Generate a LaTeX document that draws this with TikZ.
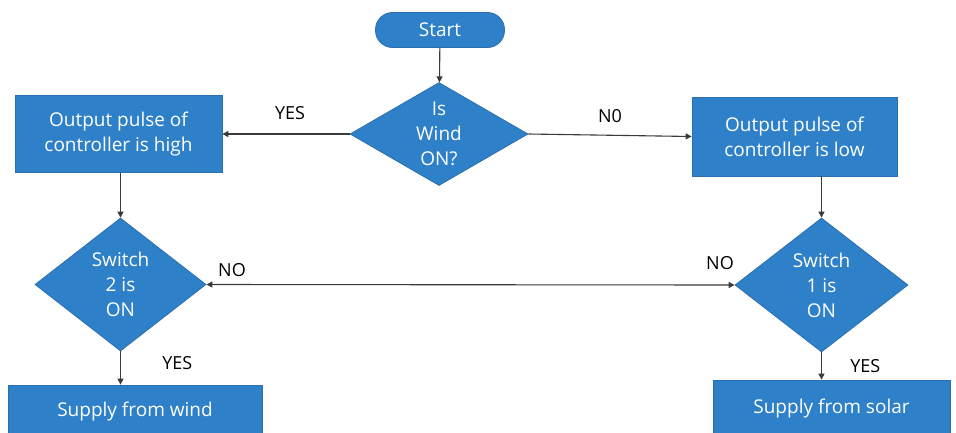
\documentclass[tikz,border=0pt]{standalone}
\usepackage{fontspec}
\setmainfont{Open Sans}
\usepackage{xcolor}
\usetikzlibrary{
  arrows.meta,
  shapes.geometric,
  positioning
}
\definecolor{fcBlue}{HTML}{2E80C9}
\definecolor{fcEdge}{HTML}{2B6FAE}
\definecolor{fcLine}{HTML}{3A3A3A}
\tikzset{
  fcnode/.style={
    draw=fcEdge, fill=fcBlue, text=white, align=center, line width=0.8pt,
    font=\fontsize{19}{25}\selectfont
  },
  fcstart/.style={fcnode, rounded corners=17pt, minimum width=129pt, minimum height=35pt},
  fcbox/.style={fcnode, minimum width=207pt, minimum height=77pt, inner sep=0pt},
  fcdec/.style={fcnode, diamond, inner sep=0pt},
  fcend/.style={fcnode, inner sep=0pt},
  fcflow/.style={-{Triangle[length=6pt, width=6pt]}, line width=1.1pt, fcLine},
  fclabel/.style={font=\fontsize{18}{20}\selectfont, text=black}
}

\begin{document}
\begin{tikzpicture}[x=1pt, y=-1pt]
  \useasboundingbox (0,0) rectangle (956,432);
  \clip (0,0) rectangle (956,432);
  % top of the chart
  \node[fcstart] (start) at (440,30) {Start};
  \node[fcdec, minimum width=178pt, minimum height=103pt, aspect=1.73] (wind) at (439,134) {Is\\Wind\\ON?};
  \node[fcbox] (outhigh) at (118.5,134) {Output pulse of\\controller is high};
  \node[fcbox, minimum width=205pt, minimum height=79pt] (outlow) at (794.5,136.5) {Output pulse of\\controller is low};
  % switches
  \node[fcdec, minimum width=171pt, minimum height=133pt, aspect=1.29] (sw2) at (120.5,284.5) {Switch\\2 is\\ON};
  \node[fcdec, minimum width=173pt, minimum height=134pt, aspect=1.29] (sw1) at (821.5,285) {Switch\\1 is\\ON};
  % supply boxes
  \node[fcend, minimum width=254pt, minimum height=54pt] (wsup) at (135,412) {Supply from wind};
  \node[fcend, minimum width=237pt, minimum height=58pt] (ssup) at (831.5,409) {Supply from solar};

  \draw[fcflow] (start) -- (wind);
  \draw[fcflow] (wind.west) -- (outhigh.east) node[fclabel, midway, above=10pt, xshift=4pt] {YES};
  \draw[fcflow] (wind.east) -- (outlow.west) node[fclabel, midway, above=9pt] {N0};
  \draw[fcflow] (outhigh.south -| sw2.north) -- (sw2.north);
  \draw[fcflow] (outlow.south -| sw1.north) -- (sw1.north);
  \draw[{Triangle[length=6pt, width=6pt]}-{Triangle[length=6pt, width=6pt]}, line width=1.1pt, fcLine]
    (sw2.east) -- (sw1.west);
  \node[fclabel] (no2) at (232,270) {NO};
  \node[fclabel] (no1) at (720,263) {NO};
  \draw[fcflow] (sw2.south) -- (sw2.south |- wsup.north) node[fclabel, pos=0.35, right=38pt] {YES};
  \draw[fcflow] (sw1.south) -- (sw1.south |- ssup.north) node[fclabel, pos=0.5, right=25pt] {YES};
\end{tikzpicture}
\end{document}
